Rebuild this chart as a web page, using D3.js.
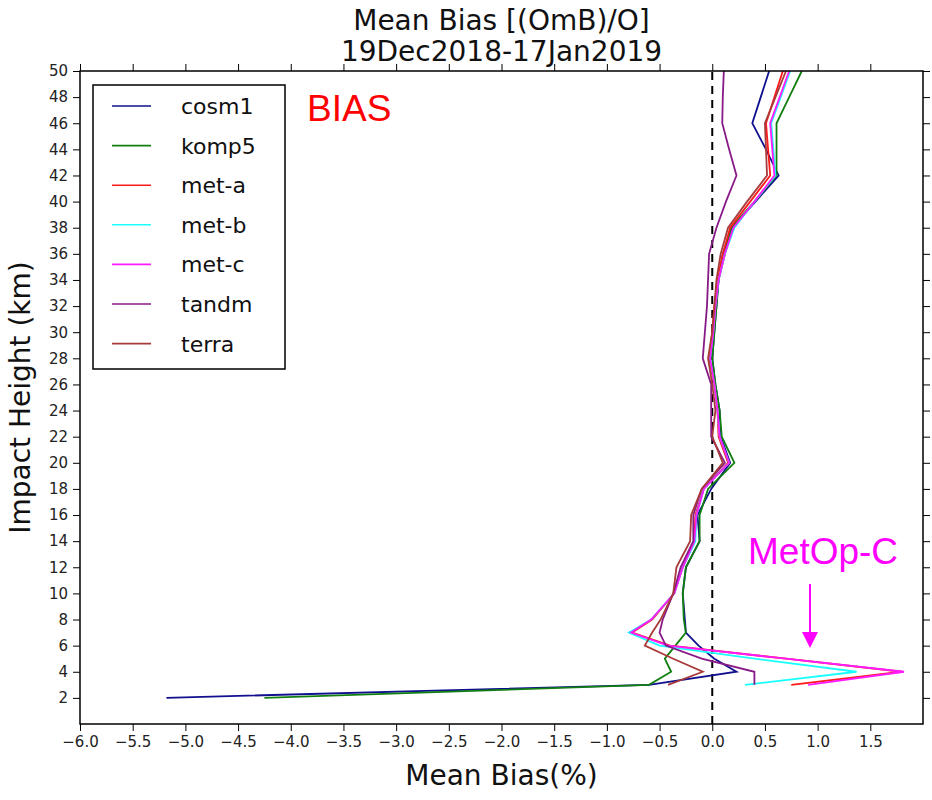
<!DOCTYPE html>
<html>
<head>
<meta charset="utf-8">
<script src="https://cdn.jsdelivr.net/npm/d3@7"></script>
<style>
  html, body { margin: 0; padding: 0; background: #fff; }
  svg { display: block; }
</style>
</head>
<body>
<svg id="chart" width="932" height="800"></svg>
<script>
// Impact heights (km) at which each profile is sampled
const heights = [2,3,4,5,6,7,8,10,12,14,16,18,20,22,24,26,28,30,32,34,36,38,40,42,44,46,48,50];

// Mean bias (%) per satellite, one value per height (null = no data)
const cosm1 = [-5.18,-0.60,0.23,0.02,-0.13,-0.25,-0.26,-0.28,-0.25,-0.12,-0.14,-0.01,0.17,0.08,0.07,0.03,0.00,0.02,0.04,0.06,0.10,0.19,0.41,0.63,0.51,0.38,0.46,0.54];
const komp5 = [-4.25,-0.60,-0.39,-0.45,-0.35,-0.25,-0.27,-0.28,-0.25,-0.12,-0.12,-0.04,0.21,0.09,0.07,0.03,0.00,0.02,0.04,0.06,0.12,0.18,0.40,0.61,0.61,0.61,0.73,0.85];
const meta  = [null,0.75,1.80,0.70,-0.40,-0.76,-0.57,-0.36,-0.28,-0.17,-0.16,-0.08,0.15,0.06,0.05,0.02,-0.03,0.00,0.02,0.05,0.10,0.17,0.36,0.55,0.53,0.51,0.59,0.67];
const metb  = [null,0.31,1.37,0.40,-0.50,-0.79,-0.58,-0.36,-0.28,-0.16,-0.15,-0.08,0.16,0.07,0.05,0.02,-0.02,0.01,0.03,0.06,0.12,0.21,0.40,0.60,0.58,0.56,0.65,0.74];
const metc  = [null,0.91,1.82,0.70,-0.42,-0.77,-0.58,-0.36,-0.28,-0.17,-0.15,-0.08,0.16,0.07,0.05,0.02,-0.02,0.01,0.03,0.06,0.12,0.20,0.40,0.59,0.57,0.55,0.64,0.73];
const tandm = [null,0.40,0.40,-0.10,-0.44,-0.50,-0.47,-0.37,-0.30,-0.18,-0.18,-0.10,0.12,-0.01,-0.01,-0.01,-0.09,-0.07,-0.05,-0.04,-0.03,0.04,0.13,0.23,0.16,0.095,0.10,0.11];
const terra = [null,-0.42,-0.09,-0.37,-0.64,-0.57,-0.49,-0.37,-0.34,-0.21,-0.20,-0.10,0.10,0.00,0.03,0.00,-0.04,0.00,0.02,0.04,0.08,0.15,0.33,0.52,0.51,0.50,0.60,0.70];

const seriesNames  = ["cosm1","komp5","met-a","met-b","met-c","tandm","terra"];
const seriesValues = [cosm1, komp5, meta, metb, metc, tandm, terra];
const seriesColors = ["#10108f","#107f10","#ff1a1a","#1affff","#ff1aff","#881a88","#a83a3a"];

// Axis ticks
const xTicks = [-6.0,-5.5,-5.0,-4.5,-4.0,-3.5,-3.0,-2.5,-2.0,-1.5,-1.0,-0.5,0.0,0.5,1.0,1.5];
const yTicks = d3.range(2, 51, 2);

const svg = d3.select("#chart");
const plotL = 80, plotR = 923, plotT = 71, plotB = 724;

const x = d3.scaleLinear().domain([-6, 2]).range([plotL, plotR]);
const y = d3.scaleLinear().domain([0, 50]).range([plotB, plotT]);

const tickFont = "DejaVu Sans, sans-serif";
const fmtX = v => (v < 0 ? "\u2212" : "") + Math.abs(v).toFixed(1);

// Zero reference line
svg.append("line")
  .attr("x1", x(0)).attr("x2", x(0))
  .attr("y1", y(0)).attr("y2", y(50))
  .attr("stroke", "#000").attr("stroke-width", 2)
  .attr("stroke-dasharray", "8,6");

// Profiles
const line = d3.line()
  .defined(d => d.v !== null)
  .x(d => x(d.v))
  .y(d => y(d.h));

seriesValues.forEach((vals, i) => {
  const pts = heights.map((h, k) => ({ h: h, v: vals[k] }));
  svg.append("path")
    .datum(pts)
    .attr("d", line)
    .attr("fill", "none")
    .attr("stroke", seriesColors[i])
    .attr("stroke-width", 1.8)
    .attr("stroke-linejoin", "miter");
});

// Axes on all four sides, ticks pointing outward
const styleAxis = g => {
  g.selectAll(".domain").remove();
  g.selectAll(".tick line").attr("stroke", "#000").attr("stroke-width", 1);
  g.selectAll("text").attr("font-family", tickFont).attr("font-size", 15).attr("fill", "#222");
};

svg.append("g").attr("transform", `translate(0,${plotB})`)
  .call(d3.axisBottom(x).tickValues(xTicks).tickFormat(fmtX).tickSizeOuter(0).tickSize(7).tickPadding(5))
  .call(styleAxis);
svg.append("g").attr("transform", `translate(0,${plotT})`)
  .call(d3.axisTop(x).tickValues(xTicks).tickFormat("").tickSizeOuter(0).tickSize(7))
  .call(styleAxis);
svg.append("g").attr("transform", `translate(${plotL},0)`)
  .call(d3.axisLeft(y).tickValues(yTicks).tickFormat(d3.format("d")).tickSizeOuter(0).tickSize(7).tickPadding(5))
  .call(styleAxis);
svg.append("g").attr("transform", `translate(${plotR},0)`)
  .call(d3.axisRight(y).tickValues(yTicks).tickFormat("").tickSizeOuter(0).tickSize(7))
  .call(styleAxis);

// Frame
svg.append("rect")
  .attr("x", plotL).attr("y", plotT)
  .attr("width", plotR - plotL).attr("height", plotB - plotT)
  .attr("fill", "none").attr("stroke", "#000").attr("stroke-width", 1.5);

// Titles
const bigFont = 28;
svg.append("text").attr("x", (plotL + plotR) / 2).attr("y", 30)
  .attr("text-anchor", "middle").attr("font-family", tickFont).attr("font-size", bigFont)
  .attr("fill", "#111").text("Mean Bias [(OmB)/O]");
svg.append("text").attr("x", (plotL + plotR) / 2).attr("y", 61)
  .attr("text-anchor", "middle").attr("font-family", tickFont).attr("font-size", bigFont)
  .attr("fill", "#111").text("19Dec2018-17Jan2019");
svg.append("text").attr("x", (plotL + plotR) / 2).attr("y", 785)
  .attr("text-anchor", "middle").attr("font-family", tickFont).attr("font-size", bigFont)
  .attr("fill", "#111").text("Mean Bias(%)");
svg.append("text")
  .attr("transform", `translate(30,${(plotT + plotB) / 2}) rotate(-90)`)
  .attr("text-anchor", "middle").attr("font-family", tickFont).attr("font-size", bigFont)
  .attr("fill", "#111").text("Impact Height (km)");

// Legend
const lg = svg.append("g");
lg.append("rect").attr("x", 93).attr("y", 85).attr("width", 192).attr("height", 284)
  .attr("fill", "#fff").attr("stroke", "#000").attr("stroke-width", 1.5);
seriesNames.forEach((name, i) => {
  const yy = 106 + i * 39.6;
  lg.append("line").attr("x1", 112).attr("x2", 151).attr("y1", yy).attr("y2", yy)
    .attr("stroke", seriesColors[i]).attr("stroke-width", 1.6);
  lg.append("text").attr("x", 181).attr("y", yy + 8)
    .attr("font-family", tickFont).attr("font-size", 22).attr("fill", "#111").text(name);
});

// Annotations
svg.append("text").attr("x", 307).attr("y", 121)
  .attr("font-family", "Liberation Sans, Arial, sans-serif").attr("font-size", 37)
  .attr("fill", "#ff0000").text("BIAS");
svg.append("text").attr("x", 748).attr("y", 564)
  .attr("font-family", "Liberation Sans, Arial, sans-serif").attr("font-size", 37)
  .attr("fill", "#ff00ff").text("MetOp-C");
svg.append("line").attr("x1", 810).attr("x2", 810).attr("y1", 584).attr("y2", 636)
  .attr("stroke", "#ff00ff").attr("stroke-width", 2);
svg.append("path").attr("d", "M802,632 L818,632 L810,648 Z").attr("fill", "#ff00ff");
</script>
</body>
</html>
